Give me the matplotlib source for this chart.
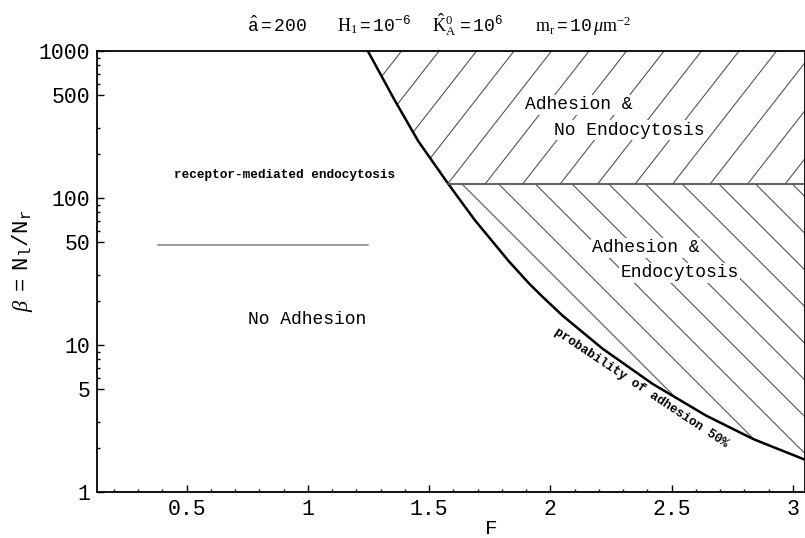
import numpy as np
import matplotlib.pyplot as plt
from matplotlib.patches import Polygon
from matplotlib.ticker import FixedLocator, MultipleLocator, NullFormatter

plt.rcParams['mathtext.fontset'] = 'custom'
plt.rcParams['mathtext.rm'] = 'Liberation Serif'
plt.rcParams['mathtext.it'] = 'Liberation Serif:italic'
plt.rcParams['mathtext.tt'] = 'Liberation Mono'
MONO = 'Liberation Mono'

# boundary: probability of adhesion 50%
curve_F = [1.247, 1.356, 1.454, 1.579, 1.688, 1.828, 1.911, 1.966, 2.049,
           2.215, 2.422, 2.642, 2.837, 3.057]
curve_beta = [1000, 468, 245, 124.5, 70.8, 37.2, 26.3, 21.4, 15.9,
              9.44, 5.43, 3.31, 2.29, 1.64]
split_beta = 124.5        # endocytosis / no endocytosis divider
endo_F = [0.38, 1.248]    # receptor-mediated endocytosis marker line
endo_beta = [47.9, 47.9]

x_ticks = [0.5, 1, 1.5, 2, 2.5, 3]
x_labels = ['0.5', '1', '1.5', '2', '2.5', '3']
y_ticks = [1, 5, 10, 50, 100, 500, 1000]
y_labels = ['1', '5', '10', '50', '100', '500', '1000']
y_minor = [2, 3, 6, 7, 8, 9, 20, 30, 60, 70, 80, 90, 200, 300, 600, 700, 800, 900]

fig = plt.figure(figsize=(8.05, 5.38), dpi=100)
W, H = 708, 441
ax = fig.add_axes([97 / 805, 46 / 538, W / 805, H / 538])
ax.set_yscale('log')

# regions
n_up = curve_beta.index(split_beta) + 1
up_verts = list(zip(curve_F[:n_up], curve_beta[:n_up])) + [(3.3, split_beta), (3.3, 1000), (curve_F[0], 1000)]
low_verts = list(zip(curve_F[n_up - 1:], curve_beta[n_up - 1:])) + [(3.3, curve_beta[-1]), (3.3, split_beta)]
up_patch = Polygon(up_verts, closed=True, facecolor='none', edgecolor='none', transform=ax.transData)
low_patch = Polygon(low_verts, closed=True, facecolor='none', edgecolor='none', transform=ax.transData)
ax.add_patch(up_patch)
ax.add_patch(low_patch)


def hatch(patch, angle, spacing, offset):
    a = np.radians(angle)
    for x0 in np.arange(-800 + offset, W + 800, spacing):
        t = np.array([-1500, 1500])
        xs = (x0 + t * np.cos(a)) / W
        ys = (t * np.sin(a)) / H
        ln, = ax.plot(xs, ys, transform=ax.transAxes, color='#555555', lw=0.8)
        ln.set_clip_path(patch)


hatch(up_patch, 52, 37.5, 10)
hatch(low_patch, 135, 36.7, 5)

ax.plot(curve_F, curve_beta, color='black', lw=1.8)
ax.plot([curve_F[n_up - 1], 3.3], [split_beta, split_beta], color='#555555', lw=1.3)
ax.plot(endo_F, endo_beta, color='#888888', lw=1.2)

box = dict(facecolor='white', edgecolor='none', pad=1)
ax.text(1.895, 430, 'Adhesion &', family=MONO, fontsize=13, va='center', bbox=box)
ax.text(2.016, 290, 'No Endocytosis', family=MONO, fontsize=13, va='center', bbox=box)
ax.text(2.173, 45.7, 'Adhesion &', family=MONO, fontsize=13, va='center', bbox=box)
ax.text(2.290, 30.9, 'Endocytosis', family=MONO, fontsize=13, va='center', bbox=box)
ax.text(0.995, 14.8, 'No Adhesion', family=MONO, fontsize=13, ha='center', va='center')
ax.text(0.904, 143, 'receptor-mediated endocytosis', family=MONO, fontsize=9.2,
        fontweight='bold', ha='center', va='center')
ax.text(2.373, 5.14, 'probability of adhesion 50%', family=MONO, fontsize=9.2, fontweight='bold',
        rotation=-33.6, ha='center', va='center', rotation_mode='anchor')

ax.set_xlim(0.13, 3.05)
ax.set_ylim(1, 1000)
ax.xaxis.set_major_locator(FixedLocator(x_ticks))
ax.set_xticklabels(x_labels)
ax.xaxis.set_minor_locator(MultipleLocator(0.1))
ax.yaxis.set_major_locator(FixedLocator(y_ticks))
ax.set_yticklabels(y_labels)
ax.yaxis.set_minor_locator(FixedLocator(y_minor))
ax.yaxis.set_minor_formatter(NullFormatter())
ax.tick_params(which='both', direction='in', top=False, right=False, width=1.0)
ax.tick_params(which='major', length=5, labelsize=15.5, pad=5)
ax.tick_params(which='minor', length=2.5)
for lab in ax.get_xticklabels() + ax.get_yticklabels():
    lab.set_family(MONO)
for s in ax.spines.values():
    s.set_linewidth(1.3)

ax.set_xlabel('F', family=MONO, fontsize=15)
ax.xaxis.set_label_coords(0.5575, -0.062)
ax.set_ylabel(r'$\beta\ \mathtt{=\ N_l/N_r}$', fontsize=16)
ax.yaxis.set_label_coords(-0.088, 0.524)

ty = 1 - 32 / 538
fig.text(247 / 805, ty, r'$\hat{\mathtt{a}}\mathtt{=200}$', fontsize=13, va='baseline')
fig.text(337 / 805, ty, r'$\mathrm{H_1}\mathtt{=10^{-6}}$', fontsize=13, va='baseline')
fig.text(432 / 805, ty, r'$\hat{\mathrm{K}}^{0}_{\mathrm{A}}\,\mathtt{=10^{6}}$', fontsize=13, va='baseline')
fig.text(535 / 805, ty, r'$\mathrm{m_r}\mathtt{=10}\,\mu\mathrm{m}^{-2}$', fontsize=13, va='baseline')

fig.savefig('out.png', dpi=100)
